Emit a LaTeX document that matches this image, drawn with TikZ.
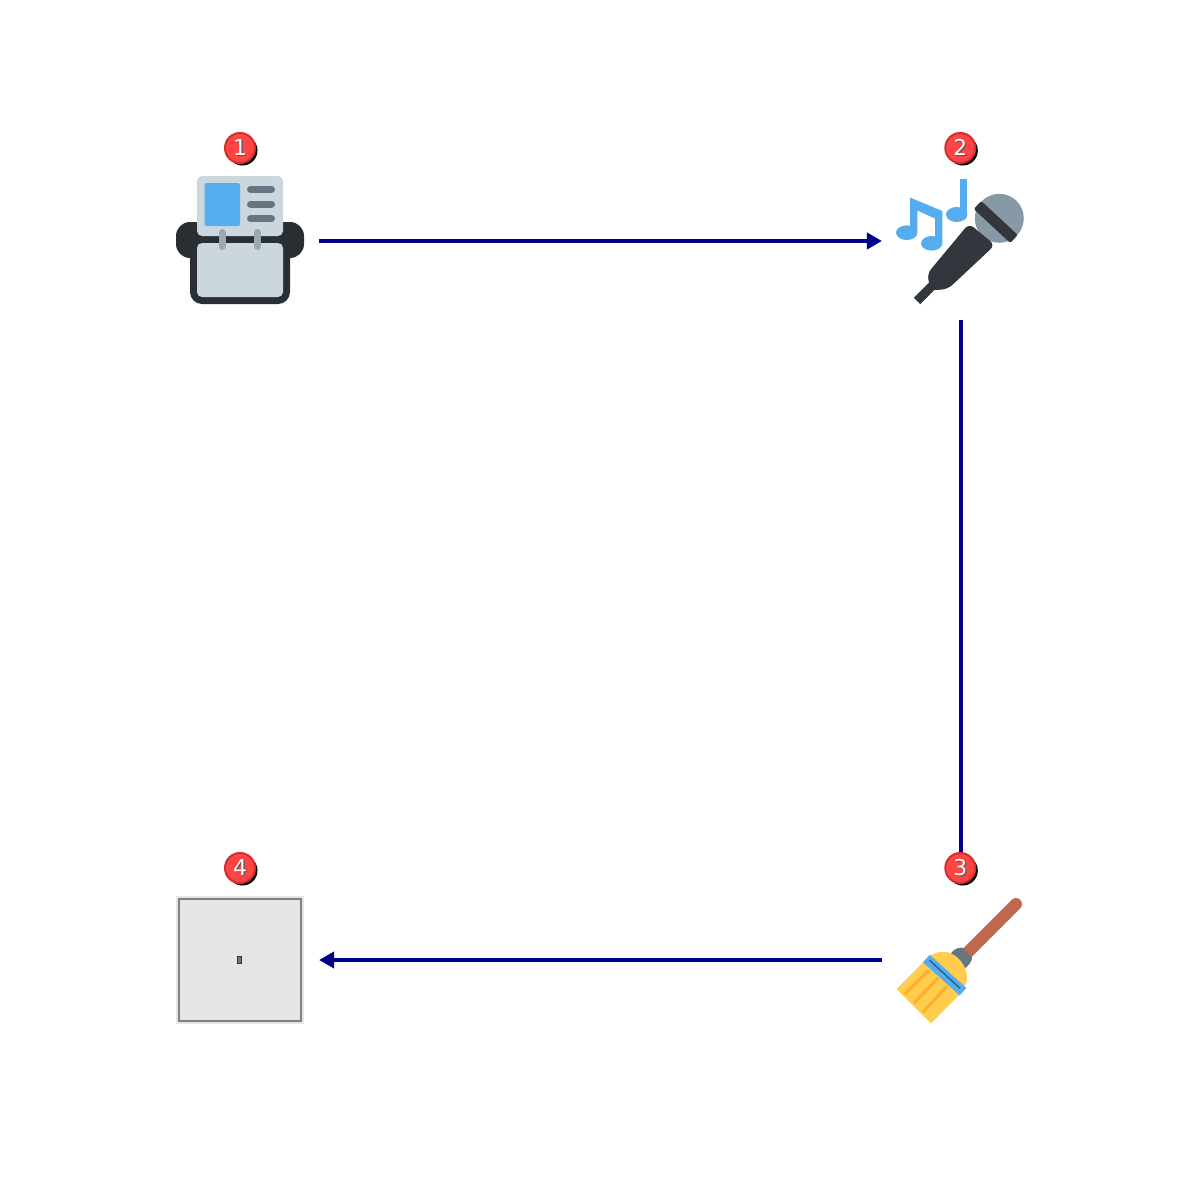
\documentclass[tikz,border=0pt]{standalone}
\usepackage{fontspec}
\setmainfont{DejaVu Sans}
\usetikzlibrary{arrows.meta,shadows}
\definecolor{linkblue}{HTML}{00008B}
\definecolor{badgered}{HTML}{FF4444}
\definecolor{badgering}{HTML}{D32F2F}
\definecolor{twdark}{HTML}{292F33}
\definecolor{twmic}{HTML}{31373D}
\definecolor{twlight}{HTML}{CCD6DD}
\definecolor{twblue}{HTML}{55ACEE}
\definecolor{twslate}{HTML}{66757F}
\definecolor{twring}{HTML}{99AAB5}
\definecolor{twhead}{HTML}{8899A6}
\definecolor{twwood}{HTML}{C1694F}
\definecolor{twyellow}{HTML}{FFCC4D}
\definecolor{tworange}{HTML}{FFAC33}
\definecolor{twband}{HTML}{226699}
\newcommand{\badgenum}[1]{\raisebox{-0.01cm}{\rlap{\hspace{0.012cm}\raisebox{-0.012cm}{\textcolor{black!65}{#1}}}#1}}
\tikzset{
	icon/.style={minimum size=1.58cm, inner sep=0pt, outer sep=0pt},
	badge/.style={circle, draw=badgering, fill=badgered, line width=0.02cm, minimum size=0.3cm, inner sep=0pt, text=white, font=\fontsize{6.2}{7}\selectfont, drop shadow={shadow xshift=0.025cm, shadow yshift=-0.025cm, fill=black, opacity=1}},
	link/.style={draw=linkblue, line width=0.04cm},
	linktip/.style={link, -{Triangle[length=0.15cm, width=0.16cm, fill=linkblue]}}
}

\begin{document}
\begin{tikzpicture}[x=0.01cm, y=-0.01cm]
	\useasboundingbox (0,0) rectangle (1200,1200);
	\node[icon] (cardbox) at (240,241) {};
	\node[icon] (mic) at (961,241) {};
	\node[icon] (broom) at (961,960) {};
	\node[icon] (blank) at (240,960) {};
	\node[badge] (badge1) at (240,148) {\badgenum{1}};
	\node[badge] (badge2) at (960.3,148) {\badgenum{2}};
	\node[badge] (badge3) at (960.3,868) {\badgenum{3}};
	\node[badge] (badge4) at (240,868) {\badgenum{4}};
	\draw[linktip] (cardbox) -- (mic);
	\draw[link] (mic) -- (mic |- badge3.north);
	\draw[linktip] (broom) -- (blank);

	\fill[twdark, rounded corners=0.14cm] (176,222) rectangle (304,258);
	\fill[twdark, rounded corners=0.12cm] (190,235) rectangle (290,304);
	\fill[twlight, rounded corners=0.05cm] (197,243) rectangle (283,297);
	\fill[twlight, rounded corners=0.05cm] (197,176) rectangle (283,236);
	\fill[twblue, rounded corners=0.02cm] (204.5,183) rectangle (240,226);
	\draw[twslate, line width=0.07cm, line cap=round] (250.5,189.5) -- (271.5,189.5);
	\draw[twslate, line width=0.07cm, line cap=round] (250.5,204) -- (271.5,204);
	\draw[twslate, line width=0.07cm, line cap=round] (250.5,218.5) -- (271.5,218.5);
	\draw[twring, line width=0.07cm, line cap=round] (222,232.5) -- (222,246.5);
	\draw[twring, line width=0.07cm, line cap=round] (257.5,232.5) -- (257.5,246.5);

	\fill[twhead] (999.3,218.3) circle (24.5);
	\fill[twmic, rounded corners=0.02cm] (981.3,201) -- (1017.8,235) -- (1010.2,243) -- (973.7,209) -- cycle;
	\fill[twmic, rounded corners=0.06cm] (969,223.5) -- (995,245) -- (948,289) -- (931,290.5) -- (927,274) -- cycle;
	\draw[twmic, line width=0.09cm] (936,282) -- (917,301);
	\fill[twblue] (960,179) rectangle (967.3,215);
	\fill[twblue] (956.7,214.5) ellipse (10.7 and 7.5);
	\fill[twblue] (910,197.5) -- (942.3,211) -- (942.3,243) -- (935,243) -- (935,218.5) -- (917.3,210.5) -- (917.3,232) -- (910,232) -- cycle;
	\fill[twblue] (906.7,232.7) ellipse (10.7 and 7.3);
	\fill[twblue] (931.7,243.3) ellipse (10.7 and 7.3);

	\draw[twwood, line width=0.12cm, line cap=round] (1016,904) -- (966,954);
	\fill[twslate] (951,953) .. controls (955,948) and (960,947) .. (963,948) -- (972,958) .. controls (972,962) and (968,966) .. (964,969) -- cycle;
	\fill[twyellow] (896.7,989) -- (923.5,962) .. controls (935,948) and (950,950) .. (958,958) .. controls (968,968) and (970,980) .. (962,992) -- (931,1023.3) -- cycle;
	\draw[tworange, line width=0.03cm] (929,970) -- (905,994);
	\draw[tworange, line width=0.03cm] (938,978) -- (914,1003);
	\draw[tworange, line width=0.03cm] (947,986) -- (923,1012);
	\draw[twblue, line width=0.1cm] (926.3,958.5) -- (963,991.7);
	\draw[twband, line width=0.015cm] (929.3,960) -- (960,988.3);

	\fill[black!10] (176,896) rectangle (304,1024);
	\draw[black!50, fill=black!10, line width=0.02cm] (179,899) rectangle (301,1021);
	\node[draw=black!80, fill=black!55, minimum width=0.045cm, minimum height=0.07cm, inner sep=0pt, line width=0.01cm] (tofu) at (239.5,959.5) {};
\end{tikzpicture}
\end{document}
